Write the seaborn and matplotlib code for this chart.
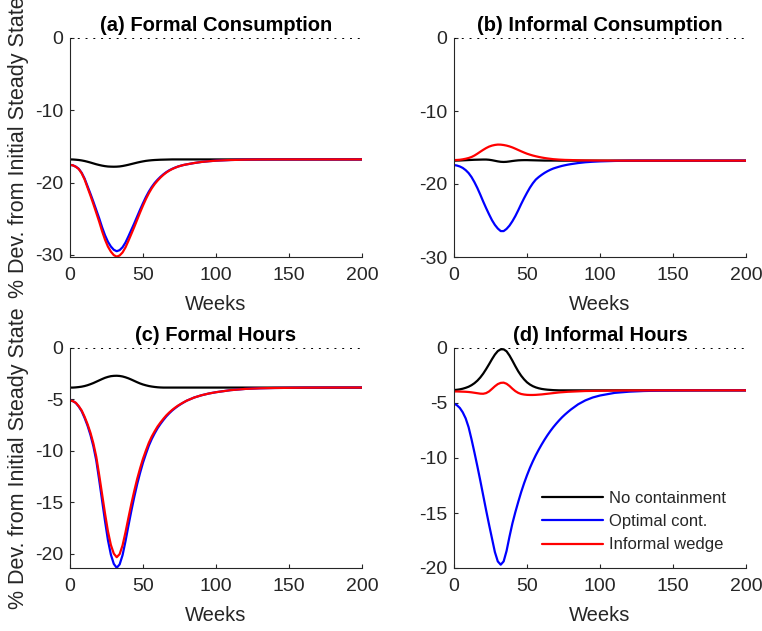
import matplotlib
matplotlib.use("Agg")
import matplotlib.pyplot as plt
import seaborn as sns

weeks = [0, 2, 4, 6, 8, 10, 12, 14, 16, 18, 20, 22, 24, 26, 28, 30, 32, 34, 36, 38, 40,
         42, 44, 46, 48, 50, 52, 54, 56, 58, 60, 62, 64, 66, 68, 70, 72, 74, 76, 78, 80,
         85, 90, 95, 100, 110, 120, 130, 140, 160, 180, 200]

series_names = ["No containment", "Optimal cont.", "Informal wedge"]
panel_titles = ["(a) Formal Consumption", "(b) Informal Consumption",
                "(c) Formal Hours", "(d) Informal Hours"]
x_ticks = [0, 50, 100, 150, 200]
y_ticks_cons = [0, -10, -20, -30]
y_ticks_hours = [0, -5, -10, -15, -20]

# (a) Formal consumption
a_none = [-16.8, -16.81, -16.84, -16.88, -16.94, -17.02, -17.12, -17.23, -17.35, -17.47, -17.57,
          -17.66, -17.73, -17.78, -17.8, -17.81, -17.8, -17.77, -17.71, -17.63, -17.54,
          -17.44, -17.34, -17.24, -17.15, -17.07, -17.0, -16.95, -16.91, -16.88, -16.86,
          -16.84, -16.83, -16.82, -16.81, -16.8, -16.8, -16.8, -16.8, -16.8, -16.8,
          -16.8, -16.8, -16.8, -16.8, -16.8, -16.8, -16.8, -16.8, -16.8, -16.8, -16.8]
a_opt = [-17.55, -17.62, -17.8, -18.1, -18.65, -19.45, -20.5, -21.55, -22.65, -23.8, -24.95,
         -26.2, -27.3, -28.2, -28.85, -29.3, -29.5, -29.35, -28.95, -28.3, -27.45,
         -26.55, -25.65, -24.7, -23.75, -22.85, -22.0, -21.25, -20.6, -20.05, -19.6,
         -19.2, -18.85, -18.55, -18.3, -18.1, -17.93, -17.78, -17.66, -17.56, -17.48,
         -17.3, -17.15, -17.05, -16.97, -16.88, -16.83, -16.81, -16.8, -16.8, -16.8, -16.8]
a_wedge = [-17.55, -17.62, -17.82, -18.13, -18.72, -19.57, -20.69, -21.8, -22.97, -24.19, -25.42,
           -26.74, -27.91, -28.87, -29.56, -30.04, -30.25, -30.09, -29.67, -28.98, -28.07,
           -27.12, -26.16, -25.15, -24.14, -23.18, -22.28, -21.48, -20.79, -20.21, -19.73,
           -19.3, -18.93, -18.61, -18.35, -18.13, -17.95, -17.79, -17.67, -17.56, -17.48,
           -17.3, -17.15, -17.05, -16.97, -16.88, -16.83, -16.81, -16.8, -16.8, -16.8, -16.8]

# (b) Informal consumption
b_none = [-16.8, -16.79, -16.78, -16.76, -16.74, -16.72, -16.7, -16.68, -16.67, -16.66, -16.65,
          -16.65, -16.68, -16.74, -16.82, -16.9, -16.96, -16.98, -16.96, -16.91, -16.85,
          -16.8, -16.76, -16.74, -16.73, -16.73, -16.74, -16.75, -16.76, -16.77, -16.78,
          -16.79, -16.79, -16.79, -16.79, -16.79, -16.8, -16.8, -16.8, -16.8, -16.8,
          -16.8, -16.8, -16.8, -16.8, -16.8, -16.8, -16.8, -16.8, -16.8, -16.8, -16.8]
b_opt = [-17.4, -17.47, -17.6, -17.8, -18.1, -18.5, -19.05, -19.75, -20.55, -21.45, -22.4,
         -23.3, -24.15, -24.95, -25.6, -26.1, -26.45, -26.45, -26.15, -25.7, -25.1,
         -24.4, -23.6, -22.75, -21.95, -21.2, -20.5, -19.9, -19.4, -19.05, -18.75,
         -18.48, -18.25, -18.05, -17.88, -17.75, -17.63, -17.52, -17.43, -17.35, -17.28,
         -17.13, -17.02, -16.95, -16.9, -16.84, -16.81, -16.8, -16.8, -16.8, -16.8, -16.8]
b_wedge = [-16.72, -16.71, -16.68, -16.62, -16.54, -16.44, -16.3, -16.1, -15.85, -15.58, -15.32,
           -15.08, -14.88, -14.74, -14.65, -14.6, -14.61, -14.66, -14.74, -14.85, -14.99,
           -15.16, -15.34, -15.52, -15.69, -15.85, -15.98, -16.1, -16.2, -16.29, -16.37,
           -16.44, -16.5, -16.55, -16.6, -16.63, -16.66, -16.68, -16.7, -16.71, -16.72,
           -16.75, -16.77, -16.78, -16.79, -16.8, -16.8, -16.8, -16.8, -16.8, -16.8, -16.8]

# (c) Formal hours
c_none = [-3.85, -3.85, -3.83, -3.8, -3.76, -3.7, -3.62, -3.52, -3.41, -3.28, -3.15,
          -3.02, -2.9, -2.81, -2.74, -2.71, -2.7, -2.72, -2.77, -2.85, -2.95,
          -3.07, -3.2, -3.33, -3.45, -3.55, -3.63, -3.7, -3.75, -3.79, -3.82,
          -3.84, -3.85, -3.85, -3.85, -3.85, -3.85, -3.85, -3.85, -3.85, -3.85,
          -3.85, -3.85, -3.85, -3.85, -3.85, -3.85, -3.85, -3.85, -3.85, -3.85, -3.85]
c_opt = [-5.1, -5.17, -5.35, -5.7, -6.15, -6.8, -7.55, -8.45, -9.55, -10.95, -12.85,
         -14.85, -16.85, -18.7, -20.1, -21.0, -21.38, -21.05, -20.15, -18.8, -17.3,
         -15.85, -14.5, -13.25, -12.15, -11.15, -10.3, -9.5, -8.85, -8.3, -7.8,
         -7.38, -7.0, -6.65, -6.35, -6.08, -5.85, -5.64, -5.45, -5.28, -5.12,
         -4.82, -4.6, -4.43, -4.3, -4.1, -3.98, -3.92, -3.89, -3.86, -3.85, -3.85]
c_wedge = [-5.1, -5.17, -5.33, -5.66, -6.08, -6.69, -7.4, -8.24, -9.27, -10.58, -12.36,
           -14.24, -16.11, -17.84, -19.16, -20.0, -20.35, -20.05, -19.2, -17.93, -16.53,
           -15.17, -13.91, -12.74, -11.71, -10.77, -9.97, -9.22, -8.61, -8.1, -7.63,
           -7.24, -6.88, -6.55, -6.27, -6.02, -5.8, -5.6, -5.43, -5.27, -5.12,
           -4.82, -4.6, -4.43, -4.3, -4.1, -3.98, -3.92, -3.89, -3.86, -3.85, -3.85]

# (d) Informal hours
d_none = [-3.82, -3.8, -3.76, -3.7, -3.62, -3.52, -3.38, -3.2, -2.97, -2.68, -2.33,
          -1.92, -1.48, -1.02, -0.6, -0.28, -0.12, -0.12, -0.3, -0.68, -1.15,
          -1.65, -2.12, -2.52, -2.85, -3.12, -3.32, -3.47, -3.58, -3.66, -3.72,
          -3.76, -3.79, -3.81, -3.83, -3.84, -3.85, -3.85, -3.85, -3.85, -3.85,
          -3.85, -3.85, -3.85, -3.85, -3.85, -3.85, -3.85, -3.85, -3.85, -3.85, -3.85]
d_opt = [-5.05, -5.2, -5.45, -5.85, -6.4, -7.2, -8.3, -9.5, -10.75, -12.05, -13.4,
         -14.75, -16.05, -17.3, -18.55, -19.4, -19.7, -19.4, -18.45, -17.15, -15.95,
         -14.93, -13.99, -13.1, -12.3, -11.57, -10.9, -10.3, -9.75, -9.25, -8.78,
         -8.34, -7.93, -7.55, -7.2, -6.88, -6.58, -6.3, -6.05, -5.82, -5.6,
         -5.12, -4.76, -4.5, -4.32, -4.08, -3.97, -3.91, -3.88, -3.86, -3.85, -3.85]
d_wedge = [-3.95, -3.95, -3.96, -3.97, -3.98, -4.0, -4.03, -4.07, -4.11, -4.15, -4.16,
           -4.1, -3.95, -3.72, -3.48, -3.28, -3.17, -3.15, -3.25, -3.45, -3.7,
           -3.92, -4.08, -4.18, -4.23, -4.26, -4.27, -4.27, -4.26, -4.24, -4.22,
           -4.19, -4.16, -4.13, -4.1, -4.07, -4.04, -4.02, -4.0, -3.98, -3.97,
           -3.94, -3.91, -3.9, -3.89, -3.87, -3.86, -3.86, -3.85, -3.85, -3.85, -3.85]

sns.set_theme(style="ticks")
plt.rcParams["font.family"] = ["Liberation Sans", "DejaVu Sans"]
plt.rcParams["axes.unicode_minus"] = False
plt.rcParams["axes.edgecolor"] = "#262626"
plt.rcParams["xtick.color"] = "#262626"
plt.rcParams["ytick.color"] = "#262626"
plt.rcParams["text.color"] = "#262626"

W, H = 762, 631
fig = plt.figure(figsize=(W / 100, H / 100), dpi=100)

def pos(l, t, r, b):
    return [l / W, 1 - b / H, (r - l) / W, (b - t) / H]

panels = [
    (pos(70, 38, 362, 257), (a_none, a_opt, a_wedge), (-30.3, 0), y_ticks_cons, True),
    (pos(454, 38, 746, 257), (b_none, b_opt, b_wedge), (-30, 0), y_ticks_cons, False),
    (pos(70, 348, 362, 568), (c_none, c_opt, c_wedge), (-21.4, 0), y_ticks_hours, True),
    (pos(454, 348, 746, 568), (d_none, d_opt, d_wedge), (-20, 0), y_ticks_hours, False),
]
colors = ["#000000", "#0000ff", "#ff0000"]

for i, (rect, data, ylim, yt, left) in enumerate(panels):
    ax = fig.add_axes(rect)
    handles = []
    for name, vals, col in zip(series_names, data, colors):
        sns.lineplot(x=weeks, y=vals, color=col, lw=1.6, ax=ax, legend=False)
        handles.append(ax.get_lines()[-1])
    ax.axhline(0, color="black", lw=1.4, linestyle=(0, (1, 3)))
    ax.set_xlim(0, 200)
    ax.set_ylim(*ylim)
    ax.set_xticks(x_ticks)
    ax.set_yticks(yt)
    ax.tick_params(axis="y", direction="in", length=3, width=0.8, labelsize=14, pad=5)
    ax.tick_params(axis="x", direction="in", length=3, width=0.8, labelsize=14, pad=7.5)
    sns.despine(ax=ax)
    for s in ("left", "bottom"):
        ax.spines[s].set_linewidth(0.8)
    ax.set_title(panel_titles[i], fontsize=14.5, fontweight="bold", pad=5, color="black")
    ax.set_xlabel("Weeks", fontsize=14.5, labelpad=7.5)
    if left:
        ax.set_ylabel("% Dev. from Initial Steady State", fontsize=15.5)
        ax.yaxis.set_label_coords(-0.14, 0.5)
    if i == 3:
        ax.legend(handles, series_names, loc="upper left", bbox_to_anchor=(0.301, 0.351),
                  frameon=False, fontsize=12, handlelength=3.65, handletextpad=0.36,
                  labelspacing=0.5, borderpad=0, borderaxespad=0)

fig.savefig("out.png", dpi=100)
